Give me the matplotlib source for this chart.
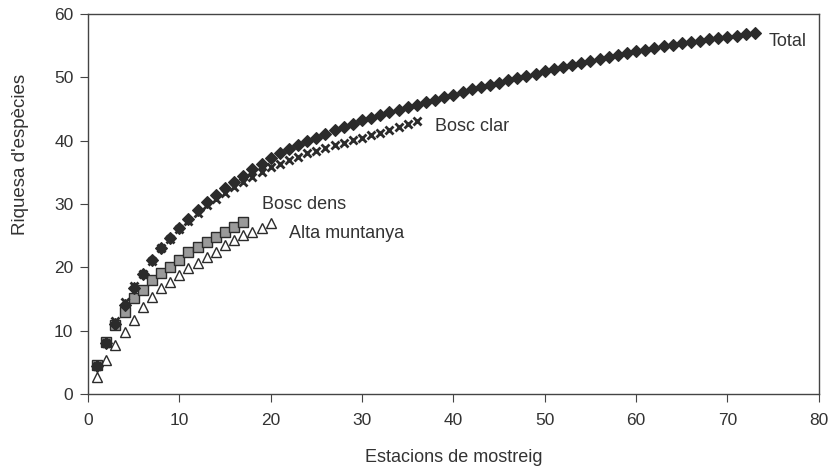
import numpy as np
import matplotlib.pyplot as plt

plt.rcParams['font.family'] = ['Liberation Sans', 'DejaVu Sans']

# Species accumulation values
total = [4.5, 8.1, 11.1, 14.0, 16.8, 19.0, 21.1, 23.0, 24.6, 26.2,
         27.7, 29.0, 30.3, 31.4, 32.5, 33.5, 34.5, 35.5, 36.4, 37.2,
         38.0, 38.7, 39.4, 40.0, 40.5, 41.1, 41.7, 42.2, 42.7, 43.2,
         43.6, 44.1, 44.5, 44.9, 45.3, 45.7, 46.1, 46.5, 46.9, 47.3,
         47.7, 48.1, 48.5, 48.8, 49.2, 49.6, 49.9, 50.3, 50.6, 51.0,
         51.3, 51.6, 52.0, 52.3, 52.6, 52.9, 53.2, 53.5, 53.8, 54.1,
         54.4, 54.7, 54.9, 55.2, 55.4, 55.6, 55.8, 56.0, 56.2, 56.4,
         56.6, 56.8, 57.0]
bosc_clar = [4.5, 8.0, 11.5, 14.5, 17.0, 19.0, 21.0, 23.0, 24.5, 26.0,
             27.4, 28.6, 29.8, 30.8, 31.8, 32.7, 33.5, 34.3, 35.1, 35.8,
             36.4, 37.0, 37.5, 38.0, 38.4, 38.9, 39.3, 39.7, 40.1, 40.5,
             40.9, 41.3, 41.7, 42.1, 42.6, 43.1]
bosc_dens = [4.6, 8.2, 10.9, 13.0, 15.2, 16.4, 18.0, 19.1, 20.1, 21.2,
             22.4, 23.2, 24.0, 24.8, 25.6, 26.4, 27.1]
alta_muntanya = [2.7, 5.4, 7.7, 9.8, 11.7, 13.7, 15.3, 16.7, 17.7, 18.8,
                 19.9, 20.7, 21.6, 22.4, 23.5, 24.3, 25.1, 25.6, 26.2, 27.0]

labels = ['Total', 'Bosc clar', 'Bosc dens', 'Alta muntanya']
label_pos = [(74.5, 55.6), (38, 42.3), (19, 30.0), (22, 25.4)]

fig = plt.figure(figsize=(8.33, 4.71), dpi=100)
ax = fig.add_axes([0.1056, 0.1635, 0.8774, 0.8065])

dark = '#2b2b2b'

x_am = np.arange(1, len(alta_muntanya) + 1)
ax.plot(x_am, alta_muntanya, linestyle='none', marker='^', markersize=7.5,
        markerfacecolor='white', markeredgecolor=dark, markeredgewidth=1.0)

x_bd = np.arange(1, len(bosc_dens) + 1)
ax.plot(x_bd, bosc_dens, linestyle='none', marker='s', markersize=6.5,
        markerfacecolor='#9a9a9a', markeredgecolor=dark, markeredgewidth=1.0)

x_bc = np.arange(1, len(bosc_clar) + 1)
ax.plot(x_bc, bosc_clar, linestyle='none', marker='x', markersize=5.5,
        color=dark, markeredgewidth=2.0)

x_t = np.arange(1, len(total) + 1)
ax.plot(x_t, total, linestyle='none', marker='D', markersize=6.5,
        markerfacecolor=dark, markeredgecolor=dark, markeredgewidth=0.8)

for lab, (lx, ly) in zip(labels, label_pos):
    ax.text(lx, ly, lab, fontsize=13, color='#333333', ha='left', va='center')

ax.set_xlim(0, 80)
ax.set_ylim(0, 60)
ax.set_xticks(np.arange(0, 81, 10))
ax.set_yticks(np.arange(0, 61, 10))
ax.tick_params(direction='out', length=5.5, colors='#444444',
               labelsize=12.5, labelcolor='#333333')
ax.tick_params(axis='x', pad=8)
ax.tick_params(axis='y', pad=5)
for s in ax.spines.values():
    s.set_color('#444444')
    s.set_linewidth(1.0)

ax.set_xlabel('Estacions de mostreig', fontsize=13, color='#333333')
ax.set_ylabel("Riquesa d'espècies", fontsize=13.5, color='#333333')
ax.xaxis.set_label_coords(0.5, -0.145)
ax.yaxis.set_label_coords(-0.08, 0.63)

plt.savefig('out.png', dpi=100)
